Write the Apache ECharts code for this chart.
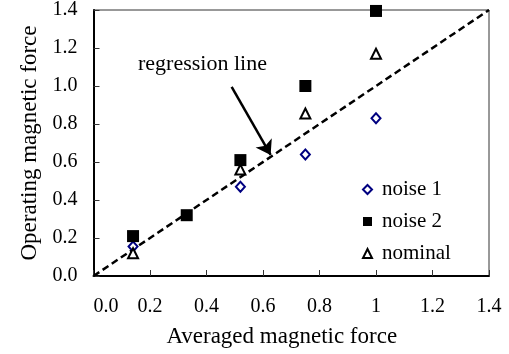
<!DOCTYPE html>
<html>
<head>
<meta charset="utf-8">
<script src="https://cdn.jsdelivr.net/npm/echarts@6/dist/echarts.min.js"></script>
<style>
html,body{margin:0;padding:0;background:#fff;}
#chart{width:509px;height:354px;}
</style>
</head>
<body>
<div id="chart"></div>
<script>
// Data
const noise1 = [[0.14, 0.155], [0.52, 0.47], [0.75, 0.64], [1.0, 0.83]];
const noise2 = [[0.14, 0.21], [0.33, 0.32], [0.52, 0.61], [0.75, 1.0], [1.0, 1.395]];
const nominal = [[0.14, 0.12], [0.52, 0.56], [0.75, 0.855], [1.0, 1.17]];
const regression = [[0, 0], [1.4, 1.4]];
const arrowFrom = [0.489, 0.996];
const arrowTo = [0.627, 0.637];
const xTickLabels = ['0.0', '0.2', '0.4', '0.6', '0.8', '1', '1.2', '1.4'];
const yTickLabels = ['0.0', '0.2', '0.4', '0.6', '0.8', '1.0', '1.2', '1.4'];
const seriesNames = ['noise 1', 'noise 2', 'nominal'];
const xTitle = 'Averaged magnetic force';
const yTitle = 'Operating magnetic force';
const annotation = 'regression line';

const FONT = '"Liberation Serif", "Times New Roman", serif';
const chart = echarts.init(document.getElementById('chart'), null, {renderer: 'canvas'});

const option = {
  backgroundColor: '#ffffff',
  animation: false,
  grid: {
    left: 93.5, right: 20, top: 10, bottom: 78,
    show: true, borderColor: '#333', borderWidth: 1, backgroundColor: 'transparent'
  },
  xAxis: {
    type: 'value', min: 0, max: 1.4, interval: 0.2,
    name: xTitle, nameLocation: 'middle', nameGap: 49,
    nameTextStyle: {fontFamily: FONT, fontSize: 23, color: '#000', padding: [0, 19, 0, 0]},
    axisLine: {show: true, onZero: false, lineStyle: {color: '#000', width: 2}},
    axisTick: {show: true, inside: true, length: 6, lineStyle: {color: '#333', width: 1}},
    splitLine: {show: false},
    axisLabel: {
      fontFamily: FONT, fontSize: 20, color: '#000', margin: 21,
      alignMinLabel: 'left',
      formatter: function (v) { return xTickLabels[Math.round(v / 0.2)]; }
    }
  },
  yAxis: {
    type: 'value', min: 0, max: 1.4, interval: 0.2,
    name: yTitle, nameLocation: 'middle', nameGap: 48, nameRotate: 90,
    nameTextStyle: {fontFamily: FONT, fontSize: 23, color: '#000'},
    axisLine: {show: true, onZero: false, lineStyle: {color: '#000', width: 2}},
    axisTick: {show: true, inside: true, length: 6, lineStyle: {color: '#333', width: 1}},
    splitLine: {show: false},
    axisLabel: {
      fontFamily: FONT, fontSize: 20, color: '#000', margin: 16,
      padding: [8, 0, 0, 0],
      formatter: function (v) { return yTickLabels[Math.round(v / 0.2)]; }
    }
  },
  legend: {
    data: seriesNames,
    orient: 'vertical',
    left: 357, top: 174,
    itemWidth: 9, itemHeight: 9, itemGap: 11,
    textStyle: {fontFamily: FONT, fontSize: 21, color: '#000', padding: [0, 0, 0, 5]}
  },
  graphic: [{
    type: 'text', left: 138, top: 53,
    style: {text: annotation, font: '22px ' + FONT, fill: '#000'}
  }],
  series: [
    {
      name: 'regression', type: 'line', data: regression,
      symbol: 'none', silent: true, z: 1,
      lineStyle: {color: '#000', width: 2.5, type: [7, 4]},
      markLine: {
        silent: true, animation: false,
        symbol: ['none', 'arrow'], symbolSize: 14,
        label: {show: false},
        lineStyle: {color: '#000', width: 2.5, type: 'solid'},
        data: [[{coord: arrowFrom}, {coord: arrowTo}]]
      }
    },
    {
      name: seriesNames[0], type: 'scatter', data: noise1, z: 3,
      symbol: 'diamond', symbolSize: [9, 10],
      itemStyle: {color: '#fff', borderColor: '#000080', borderWidth: 2, opacity: 1}
    },
    {
      name: seriesNames[1], type: 'scatter', data: noise2, z: 4,
      symbol: 'rect', symbolSize: 12,
      itemStyle: {color: '#000', opacity: 1}
    },
    {
      name: seriesNames[2], type: 'scatter', data: nominal, z: 5,
      symbol: 'triangle', symbolSize: [10, 10],
      itemStyle: {color: '#fff', borderColor: '#000', borderWidth: 2, opacity: 1}
    }
  ]
};
chart.setOption(option);
</script>
</body>
</html>
